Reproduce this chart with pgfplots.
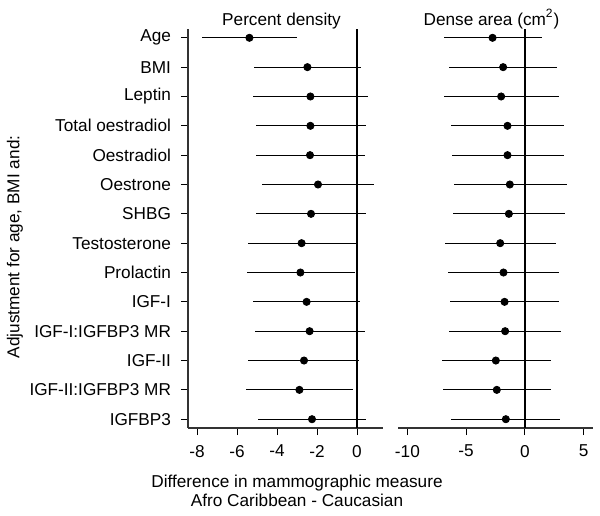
\documentclass[border=0pt]{standalone}
\usepackage{pgfplots}
\pgfplotsset{compat=1.18}
\usepackage{pgfplotstable}
\usepackage{fontspec}
\setmainfont{Liberation Sans}

\pgfplotstableread{
row est lo hi
1 -5.38 -7.76 -3.00
2 -2.48 -5.13 0.18
3 -2.33 -5.18 0.55
4 -2.33 -5.03 0.43
5 -2.35 -5.03 0.40
6 -1.95 -4.73 0.83
7 -2.30 -5.03 0.45
8 -2.77 -5.45 -0.07
9 -2.83 -5.52 -0.12
10 -2.52 -5.20 0.17
11 -2.37 -5.10 0.42
12 -2.65 -5.43 0.12
13 -2.88 -5.57 -0.22
14 -2.25 -4.93 0.47
}\pctdensity

\pgfplotstableread{
row est lo hi
1 -2.75 -6.90 1.45
2 -1.85 -6.42 2.73
3 -2.02 -6.90 2.92
4 -1.48 -6.25 3.30
5 -1.48 -6.22 3.30
6 -1.28 -6.05 3.55
7 -1.36 -6.14 3.41
8 -2.10 -6.76 2.64
9 -1.82 -6.56 2.92
10 -1.73 -6.39 2.92
11 -1.68 -6.45 3.10
12 -2.47 -7.02 2.24
13 -2.39 -6.96 2.22
14 -1.62 -6.28 2.96
}\densearea

\pgfplotsset{
  forest/.style={
    scale only axis,
    width=97.5pt, height=199.5pt,
    anchor=south west,
    y dir=reverse,
    ymin=0.7, ymax=14.3,
    axis x line*=bottom,
    tick align=outside,
    major tick length=3.5pt,
    every tick/.style={black, line width=0.5pt},
    axis line style={black!80, line width=0.6pt},
    tick label style={font=\fontsize{8.6}{9.5}\selectfont},
    /pgf/number format/assume math mode=true,
    x tick label style={yshift=-1.5pt},
    every axis title/.style={at={(0.5,1)}, anchor=base, yshift=2pt, inner sep=0pt, font=\fontsize{8.6}{9.5}\selectfont, xshift=-2pt},
    clip=false,
  },
  ci/.style={
    only marks, mark=*, mark size=1.8pt, black,
    mark options={fill=black},
    error bars/.cd, x dir=both, x explicit, error mark=none,
    error bar style={line width=0.5pt, black},
  },
}

\begin{document}
\begin{tikzpicture}
\useasboundingbox (0,0) rectangle (300pt,257.5pt);
\begin{axis}[forest,
  at={(94pt,43.5pt)},
  xmin=-8.45, xmax=1.3,
  xtick={-8,-6,-4,-2,0},
  axis y line*=left,
  ytick={1,...,14},
  yticklabels={Age,BMI,Leptin,Total oestradiol,Oestradiol,Oestrone,SHBG,Testosterone,Prolactin,IGF-I,IGF-I:IGFBP3 MR,IGF-II,IGF-II:IGFBP3 MR,IGFBP3},
  y tick label style={xshift=-1.5pt},
  title={Percent density},
]
\addplot[black, line width=0.7pt] coordinates {(0,0.7) (0,14.3)};
\addplot[ci] table[x=est, y=row,
  x error minus expr={\thisrow{est}-\thisrow{lo}},
  x error plus expr={\thisrow{hi}-\thisrow{est}}] {\pctdensity};
\end{axis}
\begin{axis}[forest,
  at={(199pt,43.5pt)},
  xmin=-10.8, xmax=5.8,
  xtick={-10,-5,0,5},
  axis y line=none,
  ytick=\empty,
  title={Dense area (cm\textsuperscript{2})},
]
\addplot[black, line width=0.7pt] coordinates {(0,0.7) (0,14.3)};
\addplot[ci] table[x=est, y=row,
  x error minus expr={\thisrow{est}-\thisrow{lo}},
  x error plus expr={\thisrow{hi}-\thisrow{est}}] {\densearea};
\end{axis}
\node[rotate=90, font=\fontsize{8.6}{9.5}\selectfont, inner sep=0pt] at (7.5pt,134pt) {Adjustment for age, BMI and:};
\node[align=center, font=\fontsize{8.6}{9.4}\selectfont, inner sep=0pt] at (148.5pt,12pt) {Difference in mammographic measure\\Afro Caribbean - Caucasian};
\end{tikzpicture}
\end{document}
